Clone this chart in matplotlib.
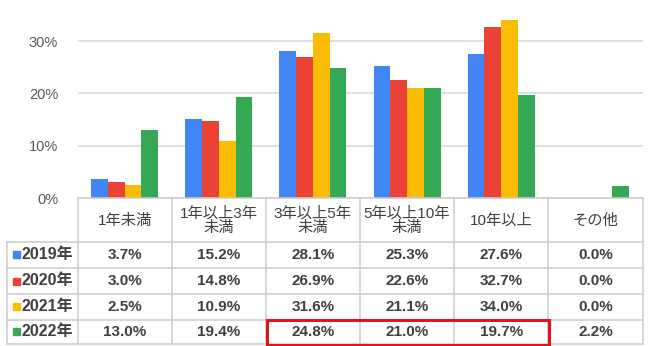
import numpy as np
import matplotlib.pyplot as plt
from matplotlib.patches import Rectangle

plt.rcParams['font.family'] = ['Liberation Sans', 'Noto Sans CJK JP', 'DejaVu Sans']

# データ
categories = ["1年未満", "1年以上3年\n未満", "3年以上5年\n未満", "5年以上10年\n未満", "10年以上", "その他"]
years = ["2019年", "2020年", "2021年", "2022年"]
v2019 = [3.7, 15.2, 28.1, 25.3, 27.6, 0.0]
v2020 = [3.0, 14.8, 26.9, 22.6, 32.7, 0.0]
v2021 = [2.5, 10.9, 31.6, 21.1, 34.0, 0.0]
v2022 = [13.0, 19.4, 24.8, 21.0, 19.7, 2.2]
series = [v2019, v2020, v2021, v2022]
colors = ["#4285F4", "#EA4335", "#FBBC04", "#34A853"]
yticks = [0, 10, 20, 30]

W, H = 652, 346
fig = plt.figure(figsize=(W / 100, H / 100), dpi=100, facecolor="white")

# 表の枠 (ピクセル)
col_edges = np.linspace(77.5, 642.5, len(categories) + 1)
row_edges = [198, 241.5, 268, 294, 319.5, 344]
label_left = 6.5

# 棒グラフ
ax = fig.add_axes([col_edges[0] / W, 1 - 198 / H, (col_edges[-1] - col_edges[0]) / W, (198 - 4) / H])
x = np.arange(len(categories)) + 0.5
bw = 0.178
for i, (vals, c) in enumerate(zip(series, colors)):
    ax.bar(x + (i - 1.5) * bw, vals, bw, color=c, zorder=3)
ax.set_xlim(0, len(categories))
ax.set_ylim(0, 37.1)
ax.set_yticks(yticks)
ax.set_yticklabels([f"{t}%" for t in yticks])
ax.set_xticks([])
ax.tick_params(axis='y', length=0, pad=14, labelsize=10.5, labelcolor="#595959")
ax.yaxis.grid(True, color="#d9d9d9", lw=1.2, zorder=0)
for s in ax.spines.values():
    s.set_visible(False)

# 表
tb = fig.add_axes([0, 0, 1, 1])
tb.set_xlim(0, W)
tb.set_ylim(H, 0)
tb.axis('off')

lc = "#cccccc"
tc = "#404040"
# 横線
tb.plot([col_edges[0], col_edges[-1]], [row_edges[0]] * 2, color=lc, lw=1.1)
for y in row_edges[1:]:
    tb.plot([label_left, col_edges[-1]], [y, y], color=lc, lw=1.1)
# 縦線
tb.plot([label_left] * 2, [row_edges[1], row_edges[-1]], color=lc, lw=1.1)
for xe in col_edges:
    tb.plot([xe, xe], [row_edges[0], row_edges[-1]], color=lc, lw=1.1)

cx = (col_edges[:-1] + col_edges[1:]) / 2
for j, cat in enumerate(categories):
    tb.text(cx[j], (row_edges[0] + row_edges[1]) / 2 + 1, cat, ha='center', va='center',
            fontsize=11, color=tc, linespacing=1.1)

for i, (yr, vals, c) in enumerate(zip(years, series, colors)):
    cy = (row_edges[i + 1] + row_edges[i + 2]) / 2
    tb.add_patch(Rectangle((12.5, cy - 3.5), 7, 7, color=c))
    tb.text(21, cy, yr, ha='left', va='center', fontsize=11.5, color=tc, fontweight='bold')
    for j, v in enumerate(vals):
        tb.text(cx[j], cy, f"{v:.1f}%", ha='center', va='center', fontsize=11,
                color=tc, fontweight='bold')

# 赤枠
tb.add_patch(Rectangle((col_edges[2] + 1, row_edges[4]), col_edges[5] - col_edges[2], 345 - row_edges[4],
                       fill=False, edgecolor="#e3121b", lw=2.2, zorder=5))

fig.savefig("out.png", dpi=100, facecolor="white")
